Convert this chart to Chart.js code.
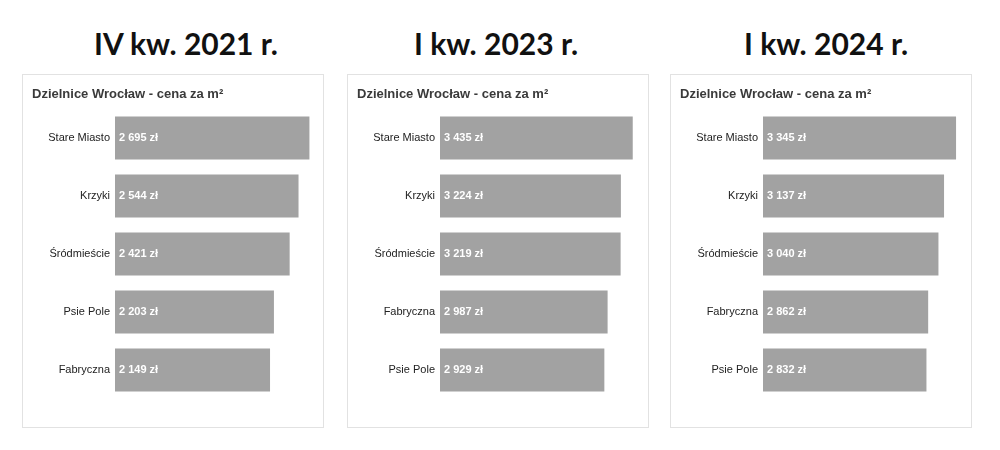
<!DOCTYPE html>
<html>
<head>
<meta charset="utf-8">
<script src="https://cdn.jsdelivr.net/npm/chart.js@4"></script>
<style>
    html, body { margin: 0; padding: 0; background: #fff; }
    body { width: 1000px; height: 450px; position: relative; overflow: hidden; }
    .period {
        position: absolute; top: 25px; width: 300px;
        font: 700 30px/36px Lato, sans-serif; color: #111; text-align: center;
    }
    .panel {
        position: absolute; top: 74px; width: 300px; height: 352px;
        border: 1px solid #e2e2e2; background: #fff;
    }
    .panel canvas { display: block; }
</style>
</head>
<body>
<div class="period" style="left:36px">IV kw. 2021 r.</div>
<div class="period" style="left:346px">I kw. 2023 r.</div>
<div class="period" style="left:676px">I kw. 2024 r.</div>

<div class="panel" style="left:22px"><canvas id="c2021" width="300" height="352"></canvas></div>
<div class="panel" style="left:347px"><canvas id="c2023" width="300" height="352"></canvas></div>
<div class="panel" style="left:670px"><canvas id="c2024" width="300" height="352"></canvas></div>

<script>
const chartTitle = 'Dzielnice Wrocław - cena za m²';

const districts2021 = ['Stare Miasto', 'Krzyki', 'Śródmieście', 'Psie Pole', 'Fabryczna'];
const prices2021 = [2695, 2544, 2421, 2203, 2149];

const districts2023 = ['Stare Miasto', 'Krzyki', 'Śródmieście', 'Fabryczna', 'Psie Pole'];
const prices2023 = [3435, 3224, 3219, 2987, 2929];

const districts2024 = ['Stare Miasto', 'Krzyki', 'Śródmieście', 'Fabryczna', 'Psie Pole'];
const prices2024 = [3345, 3137, 3040, 2862, 2832];

const axisMax = { c2021: 2800, c2023: 3600, c2024: 3500 };

// "2 695 zł"
const formatPrice = v => String(v).replace(/\B(?=(\d{3})+(?!\d))/g, ' ') + ' zł';

// white value text at the start of each bar
const valueLabels = {
    id: 'valueLabels',
    afterDatasetsDraw(chart) {
        const ctx = chart.ctx;
        const values = chart.data.datasets[0].data;
        ctx.save();
        ctx.font = 'bold 11px Arial, "Liberation Sans", sans-serif';
        ctx.fillStyle = '#ffffff';
        ctx.textBaseline = 'middle';
        chart.getDatasetMeta(0).data.forEach((bar, i) => {
            ctx.fillText(formatPrice(values[i]), bar.base + 4, bar.y);
        });
        ctx.restore();
    }
};

function createChart(id, labels, values) {
    new Chart(document.getElementById(id), {
        type: 'bar',
        data: {
            labels: labels,
            datasets: [{
                data: values,
                backgroundColor: '#a2a2a2',
                borderWidth: 0,
                barPercentage: 1,
                categoryPercentage: 0.741
            }]
        },
        options: {
            indexAxis: 'y',
            responsive: false,
            animation: false,
            events: [],
            layout: { padding: { left: 9, right: 6, top: 0, bottom: 28 } },
            plugins: {
                legend: { display: false },
                tooltip: { enabled: false },
                title: {
                    display: true,
                    text: chartTitle,
                    align: 'start',
                    color: '#3a3a3a',
                    font: { family: 'Arial, "Liberation Sans", sans-serif', size: 13, weight: 'bold', lineHeight: 1.2 },
                    padding: { top: 12, bottom: 6.4 }
                }
            },
            scales: {
                x: { display: false, min: 0, max: axisMax[id] },
                y: {
                    grid: { display: false, drawTicks: false },
                    border: { display: false },
                    afterFit: axis => { axis.width = 83; },
                    ticks: {
                        padding: 5,
                        color: '#222',
                        font: { family: 'Arial, "Liberation Sans", sans-serif', size: 11 }
                    }
                }
            }
        },
        plugins: [valueLabels]
    });
}

createChart('c2021', districts2021, prices2021);
createChart('c2023', districts2023, prices2023);
createChart('c2024', districts2024, prices2024);
</script>
</body>
</html>
